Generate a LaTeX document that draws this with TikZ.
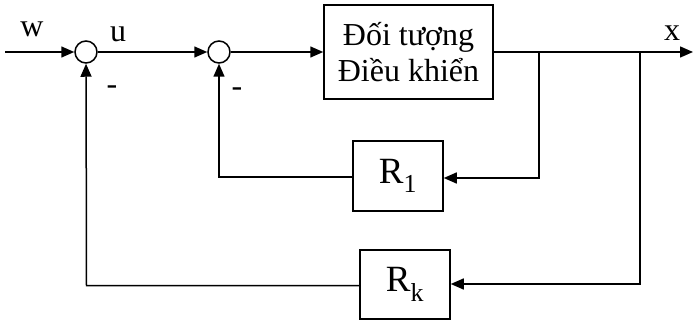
\documentclass[tikz,border=0pt]{standalone}
\usepackage{fontspec}
\setmainfont{Liberation Serif}
\usetikzlibrary{arrows.meta}
\begin{document}
\begin{tikzpicture}[x=1pt,y=-1pt,
  line width=1.5pt,
  arr/.style={-{Triangle[length=13pt,width=11pt]}},
  sumnode/.style={circle,draw,minimum size=22pt,inner sep=0pt},
  blockbox/.style={draw,rectangle,inner sep=0pt,font=\fontsize{32}{36}\selectfont},
  rbox/.style={draw,rectangle,inner sep=0pt,font=\fontsize{37}{40}\selectfont},
  lbl/.style={font=\fontsize{32}{34}\selectfont,inner sep=0pt}]
\useasboundingbox (0,0) rectangle (693,320);
\node[sumnode] (s1) at (86,52) {};
\node[sumnode] (s2) at (219,52) {};
\node[blockbox,minimum width=169pt,minimum height=94pt,align=center] (plant) at (408.5,52) {Đối tượng\\Điều khiển};
\node[rbox,minimum width=90pt,minimum height=70pt] (r1) at (398,176) {R\textsubscript{1}};
\node[rbox,minimum width=90pt,minimum height=69pt] (rk) at (405,284.5) {R\textsubscript{k}};
\coordinate (in) at (5,52);
\coordinate (out) at (693,52);
\coordinate (b1) at (539,52);
\coordinate (b2) at (640,52);
\coordinate (c1) at (539,178);
\coordinate (c2) at (640,284);
\coordinate (d1) at (219,177);
\coordinate (d2) at (86.5,285.5);
\node[lbl] (w) at (32,29) {w};
\node[lbl] (u) at (118,34) {u};
\node[lbl] (x) at (672,33) {x};
\node[lbl] (m1) at (112,90) {-};
\node[lbl] (m2) at (237,92) {-};
\draw[arr] (in) -- (s1);
\draw[arr] (s1) -- (s2);
\draw[arr] (s2) -- (plant);
\draw[arr] (plant) -- (out);
\draw[arr] (b1) -- (c1) -- (r1.east |- c1);
\draw[arr] (b2) -- (c2) -- (rk.east |- c2);
\draw[arr] (r1.west |- d1) -- (d1) -- (s2);
\draw[arr] (rk.west |- d2) -- (d2) -- (s1);
\end{tikzpicture}
\end{document}
